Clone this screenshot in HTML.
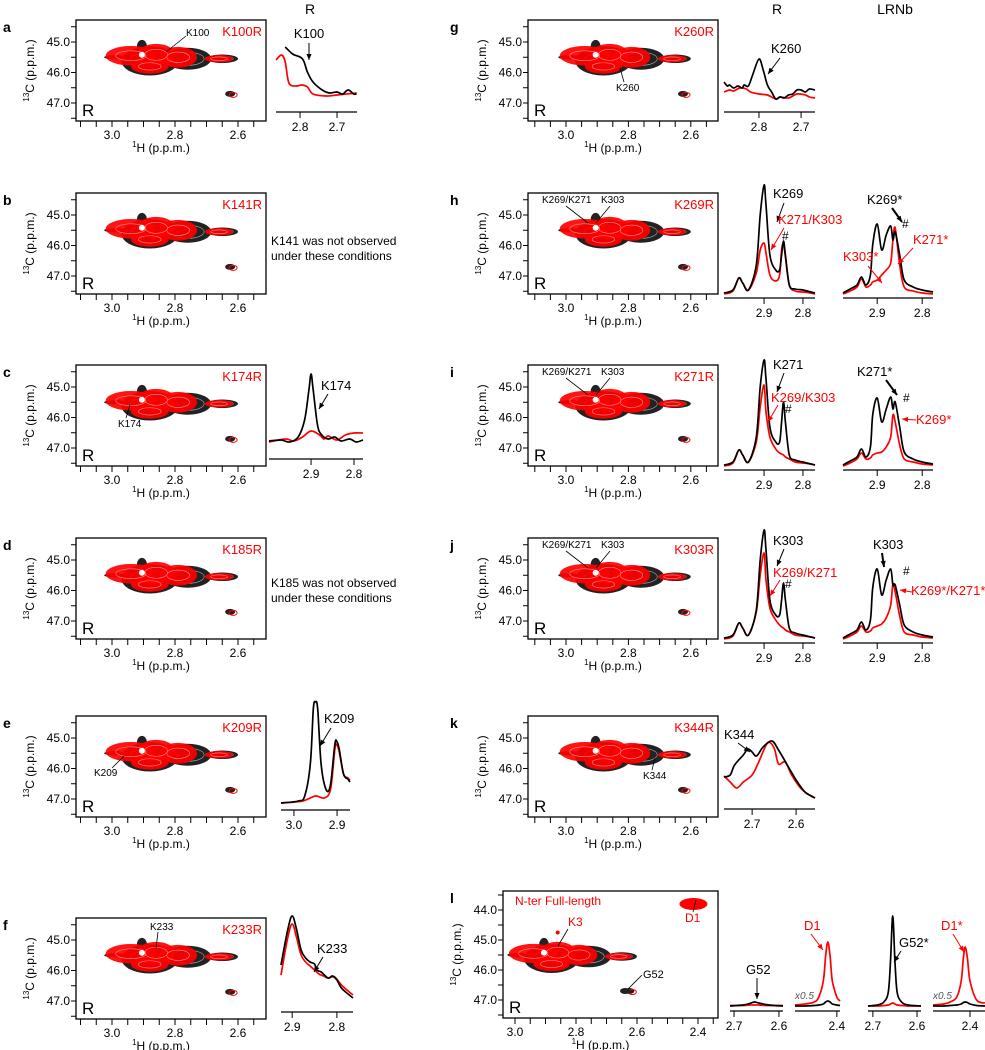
<!DOCTYPE html>
<html><head><meta charset="utf-8">
<style>
html,body{margin:0;padding:0;background:#fff;}
svg{display:block;font-family:"Liberation Sans",Arial,sans-serif;}
</style></head>
<body>
<svg id="fig" width="985" height="1050" viewBox="0 0 985 1050" xmlns="http://www.w3.org/2000/svg"></svg>
<script>
// ---------- DATA ----------
// 2D blob components: [1H ppm, 13C ppm, rH, rC]
const blobBlack = [[2.88,45.62,0.09,0.48],[2.76,45.55,0.075,0.36],[2.65,45.55,0.05,0.14],[2.905,45.15,0.016,0.22],[2.99,45.5,0.035,0.07]];
const blobRed = [[2.94,45.45,0.08,0.32],[2.86,45.42,0.06,0.36],[2.88,45.8,0.06,0.24],[2.79,45.5,0.06,0.34],[2.66,45.55,0.045,0.12]];
const spotPeak = [2.625,46.7];
const cTicks = ["45.0","46.0","47.0"];
const hTicks = ["3.0","2.8","2.6"];
const rows = [42,215,387,560,738,940];
const leftMutants = ["K100R","K141R","K174R","K185R","K209R","K233R"];
const leftLetters = ["a","b","c","d","e","f"];
const rightMutants = ["K260R","K269R","K271R","K303R","K344R"];
const rightLetters = ["g","h","i","j","k"];

// 1D spectra: ppm arrays and intensity arrays
const aPpmB=[2.84,2.82,2.80,2.79,2.78,2.765,2.74,2.72,2.70,2.685,2.67,2.655,2.647];
const aIntB=[50,43,40,36,25,15,7,4,5,3,7,3,3];
const aPpmR=[2.865,2.85,2.84,2.83,2.81,2.795,2.78,2.765,2.73,2.70,2.647];
const aIntR=[37,42,35,14,11,12,10,3,1,2,4];
const cPpmB=[2.998,2.97,2.95,2.93,2.915,2.905,2.9,2.895,2.885,2.875,2.86,2.845,2.83,2.81,2.795,2.779];
const cIntB=[4,5,3,8,25,55,71,55,20,10,6,8,4,6,3,5];
const cPpmR=[2.998,2.96,2.94,2.92,2.9,2.88,2.87,2.86,2.84,2.82,2.8,2.779];
const cIntR=[3,6,4,8,14,10,6,9,5,10,12,12];
const ePpmB=[3.03,2.99,2.975,2.962,2.955,2.95,2.945,2.937,2.925,2.915,2.905,2.9,2.895,2.885,2.875,2.87];
const eIntB=[1,3,8,40,95,102,95,40,14,20,60,62,55,30,25,22];
const ePpmR=[3.03,2.98,2.95,2.93,2.915,2.905,2.9,2.895,2.885,2.875,2.87];
const eIntR=[1,3,8,6,15,55,59,52,30,26,24];
const fPpmB=[2.925,2.91,2.9,2.89,2.88,2.87,2.86,2.85,2.845,2.835,2.82,2.81,2.8,2.79,2.775,2.764];
const fIntB=[35,70,84,70,50,42,38,36,30,28,22,24,20,12,6,2];
const fPpmR=[2.925,2.91,2.9,2.89,2.88,2.87,2.86,2.85,2.84,2.83,2.82,2.805,2.79,2.775,2.764];
const fIntR=[25,62,76,62,45,38,34,30,26,24,22,23,15,9,5];
const gPpmB=[2.883,2.875,2.87,2.86,2.85,2.84,2.835,2.825,2.815,2.8,2.79,2.78,2.77,2.76,2.75,2.74,2.73,2.72,2.71,2.7,2.69,2.68,2.667];
const gIntB=[18,14,15,12,14,12,15,14,25,41,30,15,8,1,3,2,5,6,10,10,8,11,10];
const gPpmR=[2.883,2.87,2.86,2.845,2.83,2.82,2.8,2.78,2.76,2.75,2.73,2.71,2.69,2.68,2.667];
const gIntR=[8,10,9,12,11,8,6,5,1,3,2,6,5,3,2];
const r1Ppm=[3.003,2.98,2.965,2.955,2.94,2.92,2.91,2.9,2.895,2.885,2.87,2.86,2.855,2.85,2.845,2.835,2.82,2.8,2.78,2.769];
const hIntB=[2,5,17,12,5,30,80,110,90,40,25,25,40,54,40,10,6,5,3,2];
const hIntR=[1,4,17,12,5,22,45,52,42,20,14,20,45,51,38,10,4,3,2,1];
const iIntB=[2,5,17,12,5,30,80,107,88,40,25,25,45,65,45,12,7,5,3,2];
const iIntR=[1,4,17,12,5,25,60,82,55,30,18,14,13,12,10,8,5,4,3,2];
const jIntB=[2,5,17,12,5,30,80,110,90,40,25,25,40,57,40,12,7,5,3,2];
const jIntR=[1,4,17,12,5,28,65,87,60,32,20,15,13,12,10,8,5,4,3,2];
const r2Ppm=[2.976,2.96,2.945,2.935,2.925,2.915,2.91,2.9,2.89,2.88,2.87,2.865,2.86,2.85,2.84,2.82,2.8,2.776];
const h2IntB=[2,6,10,18,10,20,50,71,45,60,69,55,63,40,15,8,5,3];
const h2IntR=[1,4,8,16,8,10,13,15,20,25,32,55,67,30,8,4,2,1];
const i2IntB=[2,6,10,18,10,20,52,69,45,58,70,58,65,40,15,8,5,3];
const i2IntR=[1,4,8,14,8,9,12,14,15,20,30,52,45,22,8,5,3,2];
const j2IntB=[2,6,10,18,10,20,52,71,45,60,71,55,55,35,15,8,5,3];
const j2IntR=[1,4,8,14,8,9,12,14,16,22,35,56,48,24,8,5,3,2];
const kPpmB=[2.764,2.75,2.74,2.72,2.71,2.7,2.69,2.675,2.655,2.64,2.62,2.6,2.58,2.565,2.557];
const kIntB=[23,25,35,45,51,48,44,53,59,50,35,20,8,4,2];
const kPpmR=[2.764,2.75,2.735,2.72,2.7,2.685,2.665,2.65,2.64,2.625,2.61,2.59,2.57,2.557];
const kIntR=[24,18,12,18,25,38,57,52,36,38,25,12,5,2];
const l1Ppm=[2.709,2.68,2.665,2.655,2.645,2.63,2.61,2.591];
const l1IntB=[0,1,2.5,4,3,1.5,0.5,0];
const l1IntR=[0.5,0.5,1,1,1,0.5,0.5,0.5];
const l2Ppm=[2.493,2.47,2.45,2.44,2.43,2.425,2.42,2.415,2.41,2.40,2.393];
const l2IntR=[1,2,4,9,25,50,64,50,25,9,5];
const l2IntB=[0,0,0.5,1,2,4,5,4,2,1,0.5];
const l3Ppm=[2.711,2.69,2.675,2.665,2.66,2.655,2.65,2.645,2.635,2.62,2.591];
const l3IntB=[0,1,4,14,45,90,45,14,4,1,0];
const l3IntR=[0,0,0.5,1,2,3,2,1,0.5,0,0];
const l4Ppm=[2.484,2.46,2.445,2.43,2.42,2.415,2.411,2.406,2.4,2.385,2.366];
const l4IntR=[1,2,4,9,25,48,59,48,25,6,3];
const l4IntB=[0,0,0.5,1,2,3.5,4,3.5,2,0.5,0];

// ---------- HELPERS ----------
const NS="http://www.w3.org/2000/svg";
const svg=document.getElementById('fig');
function mk(tag,attrs,parent,name,inter){
  const e=document.createElementNS(NS,tag);
  for(const k in attrs) e.setAttribute(k,attrs[k]);
  
  
  (parent||svg).appendChild(e);
  return e;
}
function txt(x,y,s,size,fill,name,extra){
  const a=Object.assign({x:x,y:y,'font-size':size,fill:fill||'#000'},extra||{});
  const t=mk('text',a,null,name,false);
  t.textContent=s;
  return t;
}
function line(x1,y1,x2,y2,col,w,name){
  return mk('line',{x1:x1,y1:y1,x2:x2,y2:y2,stroke:col||'#000','stroke-width':w||1},null,name,false);
}
function arrow(x1,y1,x2,y2,col,name,w){
  line(x1,y1,x2,y2,col,w||1,name);
  const ang=Math.atan2(y2-y1,x2-x1),L=6,W=2.6;
  const p=[[x2,y2],[x2-L*Math.cos(ang)+W*Math.sin(ang),y2-L*Math.sin(ang)-W*Math.cos(ang)],[x2-L*Math.cos(ang)-W*Math.sin(ang),y2-L*Math.sin(ang)+W*Math.cos(ang)]];
  mk('polygon',{points:p.map(q=>q.join(',')).join(' '),fill:col||'#000'},null,name+'-head',false);
}
function smoothPath(pts){
  let d='M'+pts[0][0].toFixed(1)+','+pts[0][1].toFixed(1);
  for(let i=0;i<pts.length-1;i++){
    const p0=pts[i-1]||pts[i],p1=pts[i],p2=pts[i+1],p3=pts[i+2]||p2;
    const c1=[p1[0]+(p2[0]-p0[0])/6,p1[1]+(p2[1]-p0[1])/6];
    const c2=[p2[0]-(p3[0]-p1[0])/6,p2[1]-(p3[1]-p1[1])/6];
    d+=' C'+c1[0].toFixed(1)+','+c1[1].toFixed(1)+' '+c2[0].toFixed(1)+','+c2[1].toFixed(1)+' '+p2[0].toFixed(1)+','+p2[1].toFixed(1);
  }
  return d;
}

// ---------- 2D PANEL ----------
function panel2D(o){
  const boxL=o.boxL,boxW=o.boxW||190,top=o.top,bot=o.bot;
  const xS=o.xS||315,h0=o.h0||3.0,h0x=o.h0x||(boxL+36);
  const cS=o.cS||30.5,y45=o.y45;
  const X=h=>h0x+(h0-h)*xS, Y=c=>y45+(c-45)*cS;
  const g=mk('g',{},null,o.name,false);
  const clipId='clip'+o.name;
  const cp=mk('clipPath',{id:clipId},g,'clip',false);
  mk('rect',{x:boxL,y:top,width:boxW,height:bot-top},cp,'clip-rect',false);
  const cg=mk('g',{'clip-path':'url(#'+clipId+')'},g,'contours',false);
  blobBlack.forEach(b=>{
    mk('ellipse',{cx:X(b[0]),cy:Y(b[1]),rx:b[2]*xS,ry:b[3]*cS,fill:'#222'},cg,'contour-black',false);
  });
  blobBlack.forEach(b=>{
    if(b[2]<0.04) return;
    mk('ellipse',{cx:X(b[0]),cy:Y(b[1]),rx:b[2]*xS*0.7,ry:b[3]*cS*0.6,fill:'none',stroke:'#aaa','stroke-width':0.6},cg,'contour-line',false);
  });
  blobRed.forEach(b=>{
    mk('ellipse',{cx:X(b[0]),cy:Y(b[1]),rx:b[2]*xS,ry:b[3]*cS,fill:'#f00','fill-opacity':0.92},cg,'contour-red',false);
  });
  blobRed.forEach(b=>{
    mk('ellipse',{cx:X(b[0]),cy:Y(b[1]),rx:b[2]*xS*0.6,ry:b[3]*cS*0.5,fill:'none',stroke:'#f88','stroke-width':0.6},cg,'contour-line-red',false);
  });
  mk('circle',{cx:X(2.905),cy:Y(45.42),r:3,fill:'#fff'},cg,'peak-center',false);
  mk('ellipse',{cx:X(spotPeak[0]),cy:Y(spotPeak[1]),rx:5,ry:3,fill:'#222'},cg,'spot-black',false);
  mk('ellipse',{cx:X(spotPeak[0])+3,cy:Y(spotPeak[1])+1,rx:4,ry:2.5,fill:'none',stroke:'#f00','stroke-width':1},cg,'spot-red',false);
  if(o.extra) o.extra(cg,X,Y);
  mk('rect',{x:boxL,y:top,width:boxW,height:bot-top,fill:'none',stroke:'#000','stroke-width':1.3},g,'plot-frame',false);
  for(let c=o.cMin||44.5;c<=47.51;c+=0.5){
    const y=Y(c); if(y<top||y>bot) continue;
    line(boxL-5,y,boxL,y,'#000',1,'y-tick');
  }
  (o.cLabels||cTicks).forEach(s=>{
    txt(boxL-6,Y(parseFloat(s))+4,s,12,'#000','y-tick-label',{'text-anchor':'end'});
  });
  for(let h=3.15;h>=2.3;h-=0.05){
    const x=X(h); if(x<boxL-0.5||x>boxL+boxW+0.5) continue;
    line(x,bot,x,bot+6,'#000',1,'x-tick');
  }
  (o.hLabels||hTicks).forEach(s=>{
    txt(X(parseFloat(s)),bot+18,s,12,'#000','x-tick-label',{'text-anchor':'middle'});
  });
  const xt=txt(boxL+boxW/2-10,bot+31,'',12,'#000','x-axis-title',{'text-anchor':'middle'});
  xt.innerHTML='<tspan font-size="8" dy="-5">1</tspan><tspan dy="5">H (p.p.m.)</tspan>';
  const yt=txt(0,0,'',12,'#000','y-axis-title',{'text-anchor':'middle',transform:'translate('+(boxL-42)+','+((top+bot)/2)+') rotate(-90)'});
  yt.innerHTML='<tspan font-size="8" dy="-5">13</tspan><tspan dy="5">C (p.p.m.)</tspan>';
  txt(boxL+6,bot-5,'R',17,'#000','reference-label');
  if(o.mutant) txt(boxL+boxW-4,top+16,o.mutant,13,'#f00','mutant-label',{'text-anchor':'end'});
  txt(o.letterX,top+12,o.letter,14,'#000','panel-letter',{'font-weight':'bold'});
}

// ---------- 1D SPECTRUM ----------
function spectrum(o){
  const x0=o.x0,x1=o.x1,pL=o.pL,pR=o.pR,base=o.base,axis=o.axis,sc=o.sc||1;
  const X=p=>x0+(pL-p)/(pL-pR)*(x1-x0);
  const Y=v=>base-v*sc;
  line(x0,axis,x1,axis,'#000',1.3,'spectrum-axis');
  o.ticks.forEach(s=>{
    const x=X(parseFloat(s));
    line(x,axis,x,axis+6,'#000',1,'spectrum-tick');
    txt(x,axis+19,s,12,'#000','spectrum-tick-label',{'text-anchor':'middle'});
  });
  o.series.forEach(se=>{
    const pts=se.ppm.map((p,i)=>[X(p),Y(se.val[i])]);
    mk('path',{d:smoothPath(pts),fill:'none',stroke:se.col,'stroke-width':1.7,'stroke-linejoin':'round'},null,se.name,false);
  });
}

// ---------- HEADERS ----------
txt(310,14,'R',14,'#000','column-header-r-left',{'text-anchor':'middle'});
txt(777,14,'R',14,'#000','column-header-r-right',{'text-anchor':'middle'});
txt(895,14,'LRNb',14,'#000','column-header-lrnb',{'text-anchor':'middle'});

rows.forEach((y45,i)=>{
  panel2D({name:'panel-'+leftLetters[i],boxL:76,y45:y45,top:y45-22,bot:y45+79,mutant:leftMutants[i],letter:leftLetters[i],letterX:3});
});
rows.slice(0,5).forEach((y45,i)=>{
  panel2D({name:'panel-'+rightLetters[i],boxL:528,y45:y45,top:y45-22,bot:y45+79,mutant:rightMutants[i],letter:rightLetters[i],letterX:450,h0x:566,xS:312});
});
panel2D({name:'panel-l',boxL:503,boxW:215,y45:940,top:891,bot:1018,cS:30,xS:305,h0x:515,letter:'l',letterX:450,
  cMin:43.5,cLabels:["44.0","45.0","46.0","47.0"],hLabels:["3.0","2.8","2.6","2.4"],
  extra:(g,X,Y)=>{
    mk('ellipse',{cx:X(2.415),cy:Y(43.8),rx:14,ry:6,fill:'#f00'},g,'d1-peak',false);
    mk('circle',{cx:X(2.86),cy:Y(44.75),r:2,fill:'#f00'},g,'k3-dot',false);
  }});
txt(515,905,'N-ter Full-length',12,'#f00','panel-l-title');

// ---------- 2D ANNOTATIONS ----------
txt(186,36,'K100',10,'#000','k100-2d-label'); line(186,36,166,52,'#000',0.8,'k100-2d-leader');
txt(118,427,'K174',10,'#000','k174-2d-label'); line(126,418,130,405,'#000',0.8,'k174-2d-leader');
txt(94,776,'K209',10,'#000','k209-2d-label'); line(112,768,124,756,'#000',0.8,'k209-2d-leader');
txt(150,930,'K233',10,'#000','k233-2d-label'); line(158,932,156,948,'#000',0.8,'k233-2d-leader');
txt(616,91,'K260',10,'#000','k260-2d-label'); line(624,82,620,68,'#000',0.8,'k260-2d-leader');
[215,387,560].forEach(y45=>{
  txt(542,y45-12,'K269/K271',10,'#000','k269-k271-2d-label'); line(566,y45-9,588,y45+8,'#000',0.8,'k269-k271-leader');
  txt(601,y45-12,'K303',10,'#000','k303-2d-label'); line(610,y45-9,596,y45+8,'#000',0.8,'k303-leader');
});
txt(643,779,'K344',10,'#000','k344-2d-label'); line(652,770,655,758,'#000',0.8,'k344-2d-leader');
txt(568,926,'K3',12,'#f00','k3-label'); line(568,929,558,946,'#000',0.8,'k3-leader');
txt(685,922,'D1',12,'#f00','d1-2d-label'); line(693,912,696,900,'#000',0.8,'d1-leader');
txt(643,978,'G52',11,'#000','g52-2d-label'); line(642,975,628,989,'#000',0.8,'g52-leader');
mk('ellipse',{cx:625,cy:991,rx:5,ry:3,fill:'#222'},null,'g52-peak',false);

txt(271,245,'K141 was not observed',12,'#000','k141-note');
txt(271,260,'under these conditions',12,'#000','k141-note-2');
txt(271,587,'K185 was not observed',12,'#000','k185-note');
txt(271,602,'under these conditions',12,'#000','k185-note-2');

// ---------- SPECTRA ----------
const B='#000',Rd='#f00';
spectrum({x0:276,x1:357,pL:2.865,pR:2.646,base:97,axis:112,ticks:["2.8","2.7"],series:[{ppm:aPpmR,val:aIntR,col:Rd,name:'a-red-trace'},{ppm:aPpmB,val:aIntB,col:B,name:'a-black-trace'}]});
txt(309,38,'K100',13,'#000','k100-label',{'text-anchor':'middle'}); arrow(309,43,309,60,'#000','k100-arrow');

spectrum({x0:269,x1:363,pL:2.998,pR:2.779,base:445,axis:459,ticks:["2.9","2.8"],series:[{ppm:cPpmR,val:cIntR,col:Rd,name:'c-red-trace'},{ppm:cPpmB,val:cIntB,col:B,name:'c-black-trace'}]});
txt(321,390,'K174',13,'#000','k174-label'); arrow(328,394,319,409,'#000','k174-arrow');

spectrum({x0:281,x1:350,pL:3.03,pR:2.87,base:804,axis:810,ticks:["3.0","2.9"],series:[{ppm:ePpmR,val:eIntR,col:Rd,name:'e-red-trace'},{ppm:ePpmB,val:eIntB,col:B,name:'e-black-trace'}]});
txt(324,723,'K209',13,'#000','k209-label'); arrow(331,728,320,746,'#000','k209-arrow');

spectrum({x0:281,x1:353,pL:2.925,pR:2.764,base:1000,axis:1012,ticks:["2.9","2.8"],series:[{ppm:fPpmR,val:fIntR,col:Rd,name:'f-red-trace'},{ppm:fPpmB,val:fIntB,col:B,name:'f-black-trace'}]});
txt(317,953,'K233',13,'#000','k233-label'); arrow(323,957,314,972,'#000','k233-arrow');

spectrum({x0:724,x1:815,pL:2.883,pR:2.667,base:100,axis:112,ticks:["2.8","2.7"],series:[{ppm:gPpmR,val:gIntR,col:Rd,name:'g-red-trace'},{ppm:gPpmB,val:gIntB,col:B,name:'g-black-trace'}]});
txt(771,53,'K260',13,'#000','k260-label'); arrow(780,58,768,74,'#000','k260-arrow');

const r1 = [[215,hIntB,hIntR,'h'],[387,iIntB,iIntR,'i'],[560,jIntB,jIntR,'j']];
r1.forEach(r=>{
  spectrum({x0:724,x1:815,pL:3.003,pR:2.769,base:r[0]+80,axis:r[0]+83,ticks:["2.9","2.8"],series:[{ppm:r1Ppm,val:r[2],col:Rd,name:r[3]+'-red-trace'},{ppm:r1Ppm,val:r[1],col:B,name:r[3]+'-black-trace'}]});
});
const r2 = [[215,h2IntB,h2IntR,'h'],[387,i2IntB,i2IntR,'i'],[560,j2IntB,j2IntR,'j']];
r2.forEach(r=>{
  spectrum({x0:843,x1:933,pL:2.976,pR:2.776,base:r[0]+80,axis:r[0]+83,ticks:["2.9","2.8"],series:[{ppm:r2Ppm,val:r[2],col:Rd,name:r[3]+'-lrnb-red-trace'},{ppm:r2Ppm,val:r[1],col:B,name:r[3]+'-lrnb-black-trace'}]});
});
txt(773,198,'K269',13,'#000','k269-label'); arrow(784,203,777,222,'#000','k269-arrow');
txt(778,224,'K271/K303',13,'#f00','k271-k303-label'); arrow(784,228,771,250,'#f00','k271-k303-arrow');
txt(782,240,'#',12,'#000','hash-h');
txt(867,204,'K269*',13,'#000','k269s-label'); arrow(892,208,902,222,'#000','k269s-arrow',2);
txt(902,228,'#',12,'#000','hash-h2');
txt(913,244,'K271*',13,'#f00','k271s-label'); arrow(913,248,898,264,'#f00','k271s-arrow');
txt(843,261,'K303*',13,'#f00','k303s-label'); arrow(868,266,882,283,'#f00','k303s-arrow');
txt(773,369,'K271',13,'#000','k271-label'); arrow(784,373,777,392,'#000','k271-arrow');
txt(771,402,'K269/K303',13,'#f00','k269-k303-label'); arrow(778,405,768,422,'#f00','k269-k303-arrow');
txt(785,413,'#',12,'#000','hash-i');
txt(857,376,'K271*',13,'#000','k271s-label-i'); arrow(886,380,897,395,'#000','k271s-arrow-i',2);
txt(903,402,'#',12,'#000','hash-i2');
txt(916,424,'K269*',13,'#f00','k269s-label-i'); arrow(916,420,902,419,'#f00','k269s-arrow-i');
txt(773,545,'K303',13,'#000','k303-label'); arrow(784,549,777,566,'#000','k303-arrow');
txt(773,577,'K269/K271',13,'#f00','k269-k271-label'); arrow(780,580,770,596,'#f00','k269-k271-arrow');
txt(785,588,'#',12,'#000','hash-j');
txt(873,549,'K303',13,'#000','k303-label-j2'); arrow(882,553,884,567,'#000','k303-arrow-j2',2);
txt(903,575,'#',12,'#000','hash-j2');
txt(911,595,'K269*/K271*',13,'#f00','k269s-k271s-label'); arrow(912,592,900,590,'#f00','k269s-k271s-arrow');

spectrum({x0:724,x1:815,pL:2.764,pR:2.557,base:800,axis:809,ticks:["2.7","2.6"],series:[{ppm:kPpmR,val:kIntR,col:Rd,name:'k-red-trace'},{ppm:kPpmB,val:kIntB,col:B,name:'k-black-trace'}]});
txt(724,739,'K344',13,'#000','k344-label'); arrow(738,743,750,752,'#000','k344-arrow');

spectrum({x0:730,x1:783,pL:2.709,pR:2.591,base:1006,axis:1011,ticks:["2.7","2.6"],series:[{ppm:l1Ppm,val:l1IntR,col:Rd,name:'l-g52-red'},{ppm:l1Ppm,val:l1IntB,col:B,name:'l-g52-black'}]});
spectrum({x0:795,x1:840,pL:2.493,pR:2.393,base:1006,axis:1011,ticks:["2.4"],series:[{ppm:l2Ppm,val:l2IntR,col:Rd,name:'l-d1-red'},{ppm:l2Ppm,val:l2IntB,col:B,name:'l-d1-black'}]});
spectrum({x0:868,x1:921,pL:2.711,pR:2.591,base:1006,axis:1011,ticks:["2.7","2.6"],series:[{ppm:l3Ppm,val:l3IntR,col:Rd,name:'l-g52s-red'},{ppm:l3Ppm,val:l3IntB,col:B,name:'l-g52s-black'}]});
spectrum({x0:933,x1:985,pL:2.484,pR:2.366,base:1006,axis:1011,ticks:["2.4"],series:[{ppm:l4Ppm,val:l4IntR,col:Rd,name:'l-d1s-red'},{ppm:l4Ppm,val:l4IntB,col:B,name:'l-d1s-black'}]});
txt(746,974,'G52',13,'#000','g52-label'); arrow(757,978,757,999,'#000','g52-arrow');
txt(804,930,'D1',13,'#f00','d1-label'); arrow(811,934,823,950,'#f00','d1-arrow');
txt(795,999,'x0.5',10,'#555','scale-note-1',{'font-style':'italic'});
txt(899,947,'G52*',13,'#000','g52s-label'); arrow(901,951,894,962,'#000','g52s-arrow');
txt(941,930,'D1*',13,'#f00','d1s-label'); arrow(953,934,964,952,'#f00','d1s-arrow');
txt(933,999,'x0.5',10,'#555','scale-note-2',{'font-style':'italic'});
</script>
</body></html>
